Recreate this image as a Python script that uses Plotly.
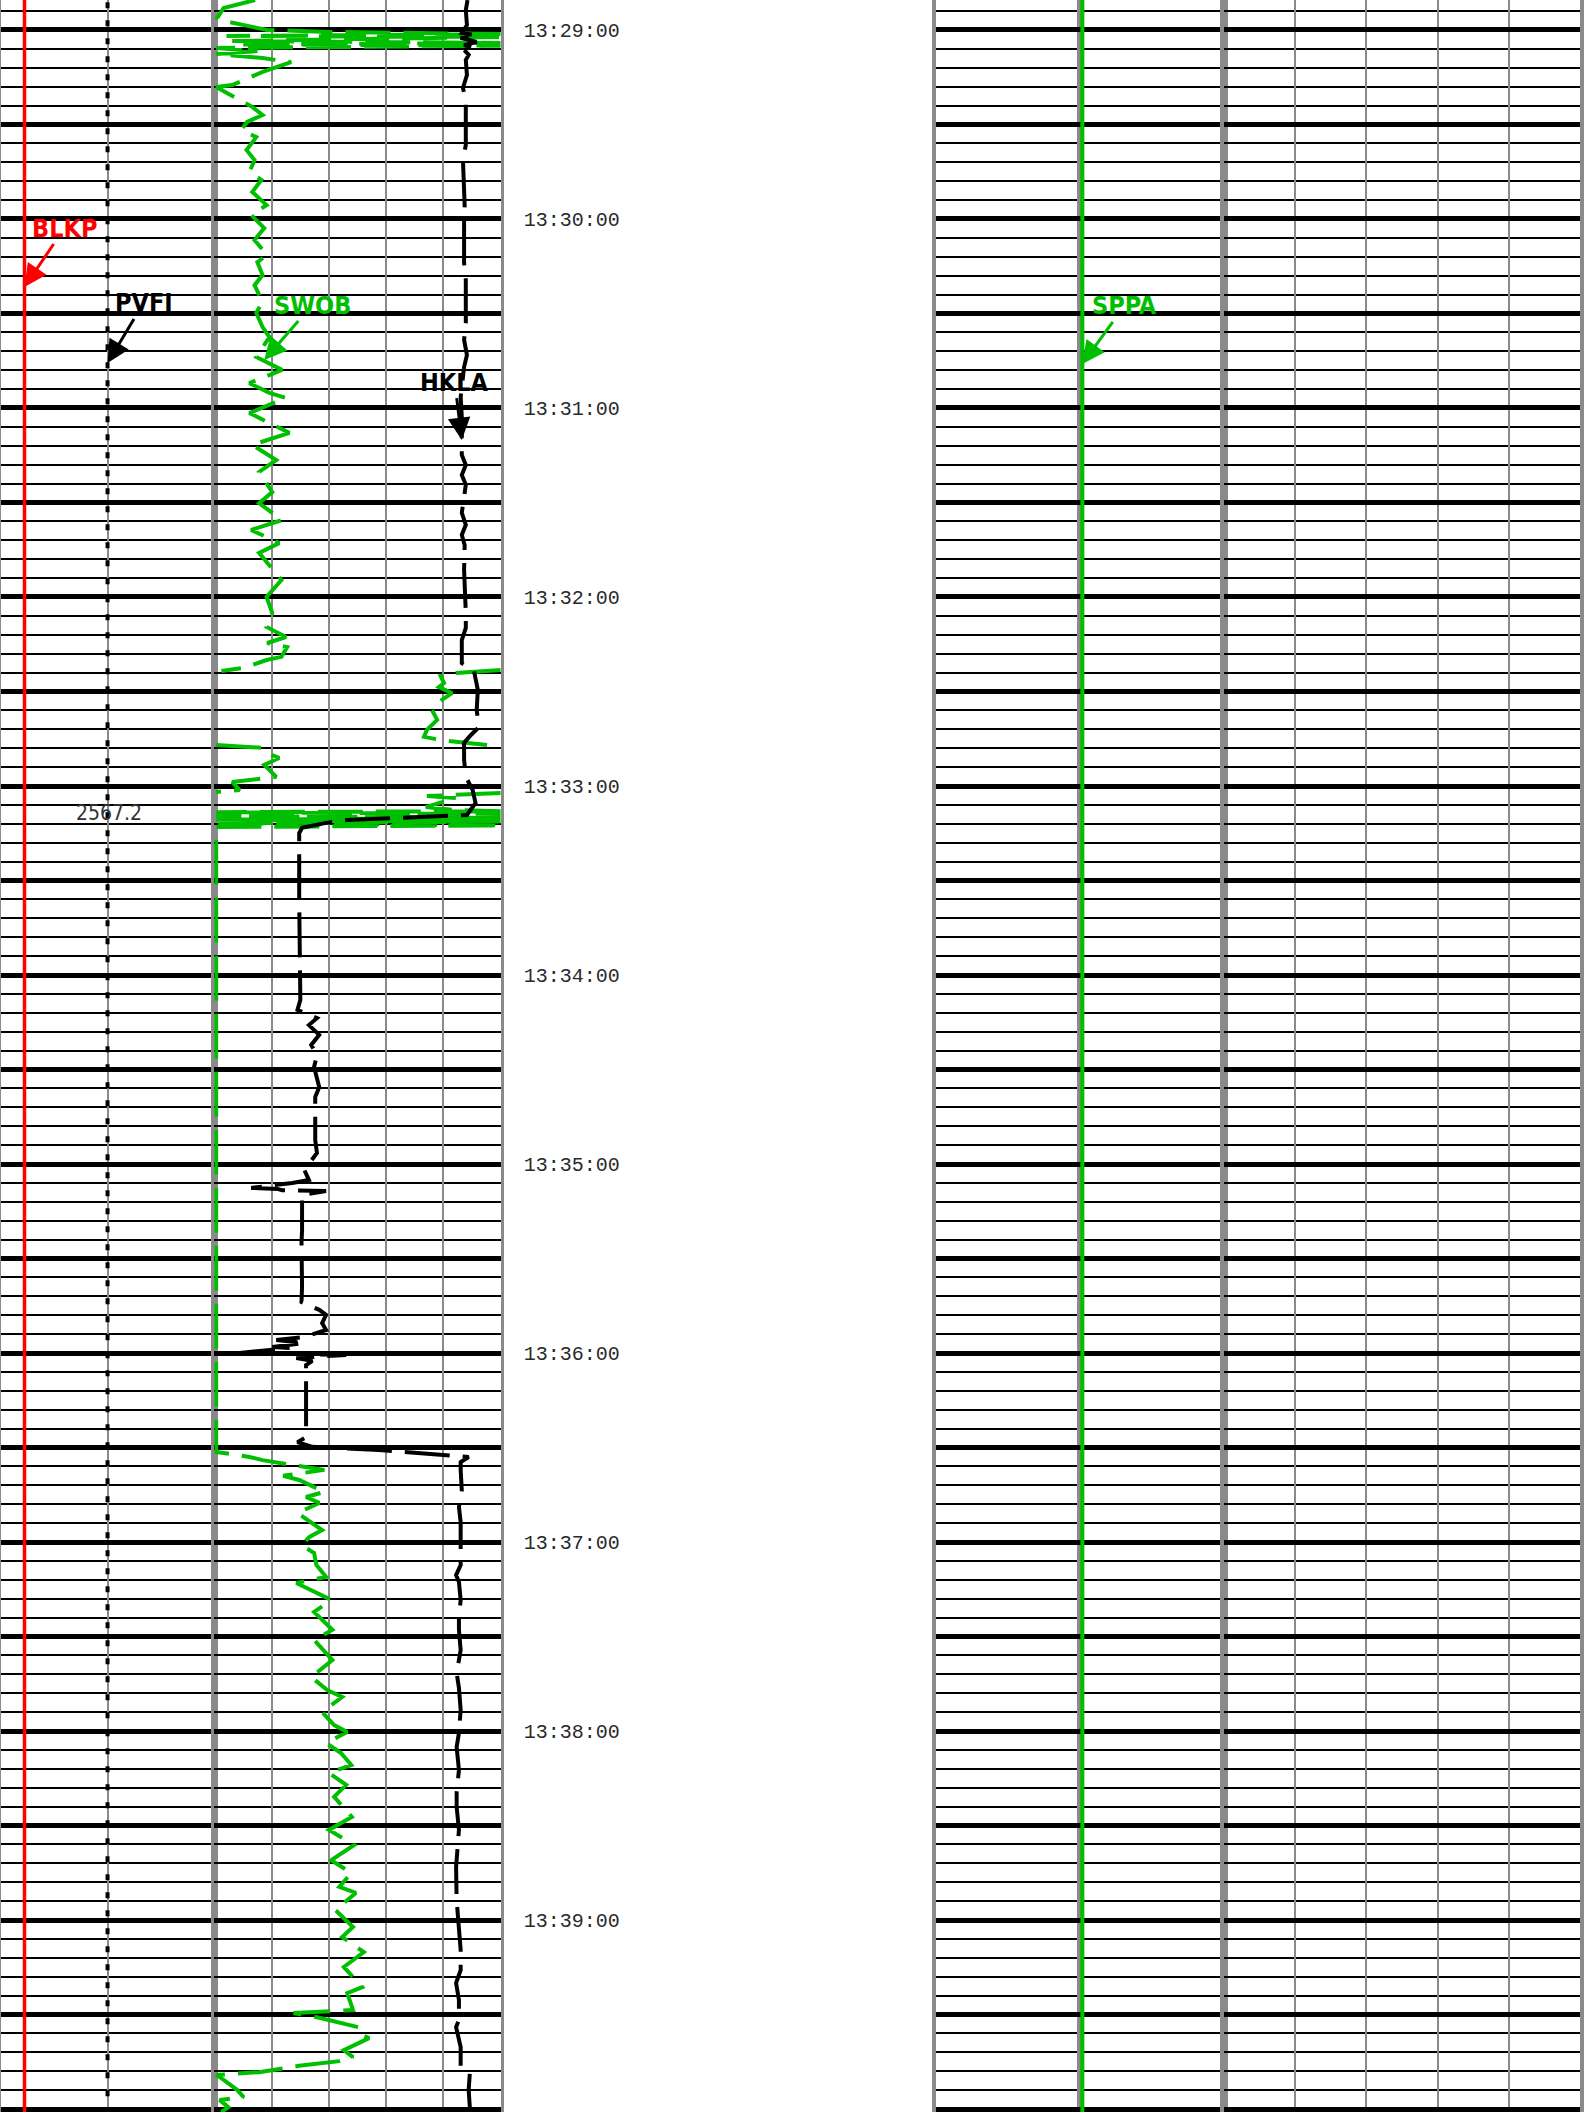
import plotly.graph_objects as go
from datetime import datetime, timedelta

BASE = datetime(2024, 1, 1, 13, 29, 0)
T_TOP = -9.52      # seconds relative to 13:29:00 at the top edge
T_BOTTOM = 660.95  # seconds at the bottom edge

TICK_SEC = [0, 30, 60, 90, 120, 150, 180, 210, 240, 270, 300, 330, 360,
            390, 420, 450, 480, 510, 540, 570, 600, 630, 660]
TICK_LABELS = ["13:29:00", "", "13:30:00", "", "13:31:00", "", "13:32:00", "",
               "13:33:00", "", "13:34:00", "", "13:35:00", "", "13:36:00", "",
               "13:37:00", "", "13:38:00", "", "13:39:00", "", "13:40:00"]

# SWOB (track 2, 0-50), (seconds after 13:29:00, value); None = gap
SWOB_POINTS = [
    (-9.5, 7.1), (-7.0, 1.6), (-3.8, 0.5), (-2.5, 2.6), (-1.0, 6.6), (0.0, 9.2),
    (0.6, 20.0), (1.3, 50), (1.9, 2.1), (2.2, 49.7), (3.5, 3.1), (4.1, 50),
    (4.6, 4.0), (5.0, 50), (5.7, 0.3), (6.7, 7.5), (7.6, 0.3), (8.9, 8.4),
    (10.2, 13.4), (13.3, 8.4),
    (17.5, 3.1), (18.1, 0.3), (22.2, 4.4), (24.4, 6.6), (27.0, 8.4), (29.2, 5.7),
    (31.7, 4.7), (34.0, 7.3), (38.1, 5.6), (41.3, 7.0), (45.1, 6.1), (47.6, 8.2),
    (51.4, 6.6), (55.6, 9.1), (58.7, 6.4), (62.9, 8.7), (66.7, 7.0), (71.4, 9.2),
    (73.7, 7.5), (77.8, 8.4), (81.0, 7.0), (86.3, 8.4), (89.8, 7.3), (94.3, 8.4),
    (97.5, 9.6), (103.8, 7.3), (107.9, 11.8), (112.1, 6.1), (115.2, 9.6),
    (116.8, 12.5), (121.6, 6.1), (127.9, 13.1), (131.7, 6.6), (136.5, 10.8),
    (140.3, 7.8), (146.7, 10.1), (150.2, 7.8), (155.6, 11.8), (158.7, 6.4),
    (162.9, 11.3), (166.0, 7.8), (174.6, 11.7), (180.0, 9.1), (185.1, 10.1),
    (189.5, 9.1), (192.7, 12.5), (194.6, 9.2), (195.9, 12.7), (199.0, 11.7),
    (200.0, 9.1), (202.5, 5.2), (203.5, 1.2),
    (None, None),
    (203.2, 50), (204.1, 42.2), (205.1, 39.5), (207.3, 40.1), (208.6, 39.2),
    (210.5, 41.5), (213.3, 39.2), (215.9, 38.0), (219.0, 38.9), (222.2, 37.1),
    (224.4, 36.6), (225.4, 39.5), (227.0, 47.6),
    (None, None),
    (227.0, 0.3), (227.9, 8.4), (229.5, 9.1), (231.1, 11.3), (233.3, 8.7),
    (237.1, 10.8), (238.7, 3.1), (241.3, 4.4), (241.9, 0.3),
    (None, None),
    (242.2, 50), (243.2, 37.1), (243.8, 42.2), (246.7, 36.9), (247.6, 41.8),
    (248.0, 50), (248.3, 0.3), (248.9, 50), (249.5, 0.3), (250.1, 50),
    (250.7, 0.3), (251.3, 50), (251.9, 0.3), (252.5, 50), (253.0, 0.3),
    (449.8, 0.3), (451.4, 0.3), (453.0, 6.1),
    (454.0, 8.4), (455.9, 14.8), (457.1, 19.2), (459.0, 12.0), (460.3, 14.8),
    (464.1, 19.2), (465.7, 16.0), (467.6, 18.3), (470.8, 14.5), (476.2, 18.8),
    (478.4, 16.6), (481.0, 15.2), (483.5, 17.4), (487.3, 17.8), (491.1, 19.5),
    (493.0, 14.3), (498.4, 20.4), (502.2, 17.4), (504.8, 18.8), (507.9, 20.6),
    (511.1, 17.4), (517.5, 20.6), (522.9, 16.9), (527.0, 19.7), (529.2, 22.3),
    (534.0, 18.8), (538.1, 20.9), (540.3, 23.2), (543.8, 19.5), (547.0, 22.1),
    (550.8, 23.9), (553.3, 20.0), (557.1, 23.0), (560.9, 20.9), (567.3, 24.0),
    (571.4, 20.0), (576.2, 24.4), (581.0, 20.4), (585.1, 23.9), (589.5, 21.8),
    (591.4, 24.7), (596.8, 21.1), (602.2, 24.2), (605.4, 22.3), (610.2, 26.1),
    (614.9, 22.6), (621.3, 25.8), (623.2, 23.2), (628.6, 24.2), (629.5, 13.8),
    (631.1, 18.5), (634.0, 25.1), (635.9, 25.1), (637.5, 27.0), (641.3, 22.6),
    (643.5, 24.2), (644.8, 21.8), (646.3, 14.8), (648.3, 7.8), (649.2, 0.3),
    (649.8, 0.9), (654.0, 4.0), (656.2, 5.1), (657.1, 0.9), (659.4, 2.4),
    (661.0, 1.2),
]

# HKLA (track 2, 0-500)
HKLA_POINTS = [
    (-9.5, 442), (-6.3, 439), (-1.6, 441), (1.0, 432), (1.6, 458), (2.5, 430),
    (3.8, 458), (4.8, 436), (5.7, 453), (6.3, 436), (7.9, 444), (9.5, 439),
    (14.3, 441), (18.4, 434), (22.2, 439), (36.5, 439), (41.3, 434), (55.6, 437),
    (61.0, 436), (74.0, 436), (79.4, 439), (93.0, 439), (98.4, 436), (103.2, 441),
    (107.0, 436), (116.5, 430), (122.9, 432), (130.2, 432), (134.9, 432),
    (138.1, 439), (141.3, 432), (144.4, 439), (148.3, 436), (153.3, 432),
    (157.1, 439), (160.3, 432), (163.5, 437), (167.3, 436), (171.4, 436),
    (185.1, 439), (189.8, 439), (193.7, 432), (201.0, 432), (203.2, 453),
    (209.5, 460), (215.9, 458), (221.3, 462), (223.8, 448), (226.3, 436),
    (231.7, 436), (237.1, 439), (241.3, 451), (245.4, 456), (249.2, 441),
    (249.8, 361), (250.2, 317), (250.5, 256), (250.8, 230), (251.7, 195),
    (253.3, 153), (254.9, 148), (276.2, 148), (307.9, 150), (311.1, 145),
    (313.7, 179), (315.9, 165), (319.0, 183), (322.2, 169), (325.4, 179),
    (329.2, 174), (335.6, 183), (338.7, 176), (352.4, 176), (356.5, 179),
    (361.9, 157), (365.1, 165), (366.0, 136), (367.6, 64), (367.9, 110),
    (368.3, 118), (368.6, 195), (369.8, 153), (381.0, 153), (385.1, 152),
    (399.0, 153), (403.8, 152), (406.3, 183), (407.9, 195), (410.5, 188),
    (412.7, 195), (414.9, 157), (415.9, 108), (416.8, 157), (418.1, 101),
    (418.4, 131), (420.0, 44), (420.6, 230), (421.6, 143), (422.5, 171),
    (423.8, 160), (432.7, 160), (437.5, 160), (446.7, 160), (448.3, 145),
    (449.8, 171), (450.8, 287), (451.7, 357), (453.0, 444), (454.6, 430),
    (457.1, 430), (463.5, 432), (468.9, 427), (473.7, 430), (487.3, 430),
    (490.5, 422), (492.7, 427), (498.4, 430), (503.8, 427), (507.9, 427),
    (514.3, 430), (521.6, 423), (526.3, 427), (533.3, 430), (540.6, 427),
    (545.1, 423), (552.4, 427), (559.4, 423), (564.1, 423), (571.4, 427),
    (578.4, 423), (583.2, 422), (593.7, 423), (601.0, 427), (609.5, 430),
    (615.9, 430), (620.0, 422), (625.4, 427), (631.7, 427), (634.0, 422),
    (640.3, 430), (646.7, 430), (648.6, 446), (654.0, 444), (659.4, 446),
    (661.0, 444),
]

BLKP_VALUE = 10.8    # track 1 (0-100)
PVFI_VALUE = 49.8    # track 1 (0-100)
SPPA_VALUE = 50.9    # track 3 (0-100)
DEPTH_LABEL = "2567.2"
DEPTH_LABEL_SEC = 248.6

GREEN = "#00BE00"
GRAY = "#8a8a8a"


def t(sec):
    if sec is None:
        return None
    return (BASE + timedelta(seconds=sec)).strftime("%Y-%m-%d %H:%M:%S.%f")


fig = go.Figure()

# Track 1
fig.add_trace(go.Scatter(x=[BLKP_VALUE, BLKP_VALUE], y=[t(T_TOP - 5), t(T_BOTTOM + 5)],
                         mode="lines", line=dict(color="#FF0000", width=3.5),
                         xaxis="x", yaxis="y", showlegend=False, hoverinfo="skip"))
fig.add_trace(go.Scatter(x=[PVFI_VALUE, PVFI_VALUE], y=[t(T_TOP - 5), t(T_BOTTOM + 5)],
                         mode="lines", line=dict(color="black", width=4, dash="6px,12px"),
                         xaxis="x", yaxis="y", showlegend=False, hoverinfo="skip"))

# Track 2
fig.add_trace(go.Scatter(x=[p[1] for p in SWOB_POINTS], y=[t(p[0]) for p in SWOB_POINTS],
                         mode="lines", line=dict(color=GREEN, width=4, dash="45px,13px"),
                         connectgaps=False, xaxis="x2", yaxis="y2", showlegend=False))
fig.add_trace(go.Scatter(x=[p[1] for p in HKLA_POINTS], y=[t(p[0]) for p in HKLA_POINTS],
                         mode="lines", line=dict(color="black", width=4, dash="45px,13px"),
                         xaxis="x3", yaxis="y2", showlegend=False))

# Track 3
fig.add_trace(go.Scatter(x=[SPPA_VALUE, SPPA_VALUE], y=[t(T_TOP - 5), t(T_BOTTOM + 5)],
                         mode="lines", line=dict(color=GREEN, width=4),
                         xaxis="x4", yaxis="y3", showlegend=False, hoverinfo="skip"))

# Track 4 (empty grid track, needs a placeholder trace to be drawn)
fig.add_trace(go.Scatter(x=[50], y=[t(0)], mode="markers", marker=dict(opacity=0),
                         xaxis="x5", yaxis="y4", showlegend=False, hoverinfo="skip"))

yrange = [t(T_BOTTOM), t(T_TOP)]
tickvals = [t(s) for s in TICK_SEC]


def yax(anchor, **kw):
    d = dict(anchor=anchor, domain=[0, 1], type="date", range=yrange,
             tickmode="array", tickvals=tickvals, ticktext=TICK_LABELS,
             showgrid=True, gridcolor="black", gridwidth=4.5,
             minor=dict(tickmode="linear", tick0=t(0), dtick=6000, showgrid=True,
                        gridcolor="black", gridwidth=1.8, ticks=""),
             showline=True, mirror=True, linecolor=GRAY, linewidth=4,
             ticks="", showticklabels=False, zeroline=False, layer="below traces",
             fixedrange=True)
    d.update(kw)
    return d


def xax(domain, anchor, **kw):
    d = dict(domain=domain, anchor=anchor, showgrid=True, gridcolor=GRAY, gridwidth=2,
             showticklabels=False, ticks="", zeroline=False, showline=False,
             fixedrange=True)
    d.update(kw)
    return d


W = 1584.0
fig.update_layout(
    width=1584, height=2112,
    margin=dict(l=0, r=0, t=0, b=0, pad=0),
    paper_bgcolor="white", plot_bgcolor="white",
    showlegend=False,
    xaxis=xax([1.5 / W, 215 / W], "y", range=[0, 100], tickmode="array", tickvals=[50]),
    xaxis2=xax([215 / W, 502 / W], "y2", range=[0, 50], tickmode="linear", tick0=0, dtick=10),
    xaxis3=dict(overlaying="x2", anchor="y2", range=[0, 500], visible=False,
                showgrid=False, zeroline=False, fixedrange=True),
    xaxis4=xax([938 / W, 1227 / W], "y3", range=[0, 100], tickmode="array", tickvals=[50],
               gridwidth=5),
    xaxis5=xax([1227 / W, 1.0], "y4", range=[0, 100], tickmode="linear", tick0=0, dtick=20),
    yaxis=yax("x"),
    yaxis2=yax("x2", matches="y", side="right", showticklabels=True,
               ticklabelstandoff=16, linewidth=3,
               tickfont=dict(family="Liberation Mono, DejaVu Sans Mono, monospace",
                             size=20, color="#2a2a2a")),
    yaxis3=yax("x4", matches="y"),
    yaxis4=yax("x5", matches="y"),
)

label_font = "Liberation Sans Narrow, DejaVu Sans Condensed, Roboto, sans-serif"


def label(text, color, x, sec, ax, ay, xref, yref):
    fig.add_annotation(text="<b>%s</b>" % text, x=x, y=t(sec), xref=xref, yref=yref,
                       ax=ax, ay=ay, showarrow=True, arrowhead=2, arrowsize=1.5,
                       arrowwidth=3, arrowcolor=color,
                       font=dict(family=label_font, size=25, color=color))


label("BLKP", "#FF0000", BLKP_VALUE, 81.6, 40, -59, "x", "y")
label("PVFI", "black", PVFI_VALUE, 105.7, 36, -60, "x", "y")
label("SWOB", GREEN, 8.7, 104.8, 48, -55, "x2", "y2")
label("HKLA", "black", 432, 130.2, -7, -58, "x3", "y2")
label("SPPA", GREEN, SPPA_VALUE, 106.0, 42, -58, "x4", "y3")

fig.add_annotation(text=DEPTH_LABEL, x=50.7, y=t(DEPTH_LABEL_SEC), xref="x", yref="y",
                   showarrow=False,
                   font=dict(family="Liberation Sans Narrow, DejaVu Sans Condensed, sans-serif",
                             size=21, color="#333333"))

fig.write_html("out.html", config={"displayModeBar": False},
               post_script="document.body.style.margin='0';document.body.style.overflow='hidden';")
